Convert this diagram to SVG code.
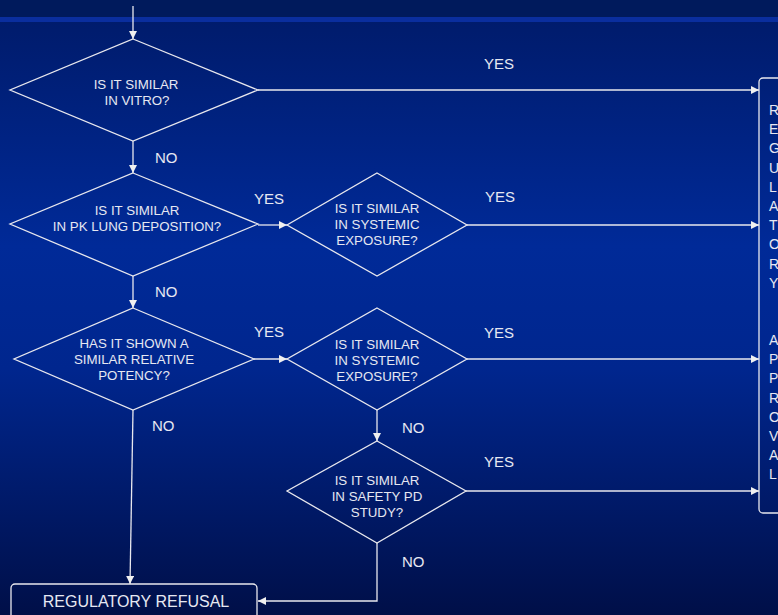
<svg xmlns="http://www.w3.org/2000/svg" width="778" height="615" viewBox="0 0 778 615">
<defs>
<linearGradient id="bg" x1="0" y1="0" x2="0" y2="1">
<stop offset="0" stop-color="#001a68"/>
<stop offset="0.4" stop-color="#002a98"/>
<stop offset="0.6" stop-color="#00268e"/>
<stop offset="1" stop-color="#000f48"/>
</linearGradient>
<marker id="arr" viewBox="0 0 10 10" refX="10" refY="5" markerWidth="8" markerHeight="8" markerUnits="userSpaceOnUse" orient="auto">
<path d="M0,0 L10,5 L0,10 z" fill="#f0f0f0"/>
</marker>
<style>
.shape{fill:none;stroke:#e8e8ee;stroke-width:1.3}
.conn{fill:none;stroke:#e8e8ee;stroke-width:1.3;marker-end:url(#arr)}
.t{font-family:"Liberation Sans",Arial,sans-serif;font-size:13.3px;fill:#e6e8f2;text-anchor:middle}
.lbl{font-family:"Liberation Sans",Arial,sans-serif;font-size:15px;fill:#e6e8f2}
.big{font-family:"Liberation Sans",Arial,sans-serif;font-size:16px;fill:#e6e8f2;text-anchor:middle}
.v{font-family:"Liberation Sans",Arial,sans-serif;font-size:14px;fill:#e6e8f2}
</style>
</defs>
<rect x="0" y="0" width="778" height="615" fill="url(#bg)"/>
<rect x="0" y="0" width="778" height="17" fill="#001a5c"/>
<rect x="0" y="17" width="778" height="5" fill="#0a2e9e"/>

<g id="connectors">
<line class="conn" x1="133" y1="6" x2="133" y2="39"/>
<line class="conn" x1="258" y1="90" x2="759" y2="90"/>
<line class="conn" x1="133" y1="141" x2="133" y2="173"/>
<line class="conn" x1="258" y1="225" x2="287" y2="225"/>
<line class="conn" x1="467" y1="225" x2="759" y2="225"/>
<line class="conn" x1="133" y1="276" x2="133" y2="308"/>
<line class="conn" x1="254" y1="359" x2="287" y2="359"/>
<line class="conn" x1="467" y1="359" x2="759" y2="359"/>
<line class="conn" x1="133" y1="410" x2="130" y2="584"/>
<line class="conn" x1="377" y1="410" x2="377" y2="441"/>
<line class="conn" x1="466" y1="491" x2="759" y2="491"/>
<polyline class="conn" points="377,543 377,601 258,601"/>
<text class="lbl" x="484" y="69">YES</text>
<text class="lbl" x="155" y="163">NO</text>
<text class="lbl" x="254" y="204">YES</text>
<text class="lbl" x="485" y="202">YES</text>
<text class="lbl" x="155" y="297">NO</text>
<text class="lbl" x="254" y="337">YES</text>
<text class="lbl" x="484" y="338">YES</text>
<text class="lbl" x="152" y="431">NO</text>
<text class="lbl" x="402" y="433">NO</text>
<text class="lbl" x="484" y="467">YES</text>
<text class="lbl" x="402" y="567">NO</text>
</g>

<g id="d1">
<polygon class="shape" points="133,39 258,90 133,141 10,90"/>
<text class="t" x="136" y="89">IS IT SIMILAR</text>
<text class="t" x="137" y="105">IN VITRO?</text>
</g>
<g id="d2">
<polygon class="shape" points="133,173 258,224 133,276 10,224"/>
<text class="t" x="137" y="215">IS IT SIMILAR</text>
<text class="t" x="137" y="231">IN PK LUNG DEPOSITION?</text>
</g>
<g id="d3">
<polygon class="shape" points="377,173 467,225 377,276 287,225"/>
<text class="t" x="377" y="213">IS IT SIMILAR</text>
<text class="t" x="377" y="229">IN SYSTEMIC</text>
<text class="t" x="377" y="245">EXPOSURE?</text>
</g>
<g id="d4">
<polygon class="shape" points="133,308 254,359 133,410 14,359"/>
<text class="t" x="134" y="348">HAS IT SHOWN  A</text>
<text class="t" x="134" y="364">SIMILAR RELATIVE</text>
<text class="t" x="134" y="380">POTENCY?</text>
</g>
<g id="d5">
<polygon class="shape" points="377,308 467,359 377,410 287,359"/>
<text class="t" x="377" y="349">IS IT SIMILAR</text>
<text class="t" x="377" y="365">IN SYSTEMIC</text>
<text class="t" x="377" y="381">EXPOSURE?</text>
</g>
<g id="d6">
<polygon class="shape" points="377,441 466,491 377,543 287,491"/>
<text class="t" x="377" y="485">IS IT SIMILAR</text>
<text class="t" x="377" y="501">IN SAFETY PD</text>
<text class="t" x="377" y="517">STUDY?</text>
</g>
<g id="refusal">
<rect class="shape" x="11" y="584" width="246" height="45" rx="4"/>
<text class="big" x="136" y="607">REGULATORY REFUSAL</text>
</g>
<g id="approval">
<rect class="shape" x="759" y="78" width="40" height="435" rx="4"/>
<text class="v" x="769" y="115">R</text>
<text class="v" x="769" y="134">E</text>
<text class="v" x="769" y="153">G</text>
<text class="v" x="769" y="173">U</text>
<text class="v" x="769" y="192">L</text>
<text class="v" x="769" y="211">A</text>
<text class="v" x="769" y="230">T</text>
<text class="v" x="769" y="249">O</text>
<text class="v" x="769" y="269">R</text>
<text class="v" x="769" y="288">Y</text>
<text class="v" x="769" y="345">A</text>
<text class="v" x="769" y="364">P</text>
<text class="v" x="769" y="383">P</text>
<text class="v" x="769" y="403">R</text>
<text class="v" x="769" y="422">O</text>
<text class="v" x="769" y="441">V</text>
<text class="v" x="769" y="460">A</text>
<text class="v" x="769" y="479">L</text>
</g>
</svg>
